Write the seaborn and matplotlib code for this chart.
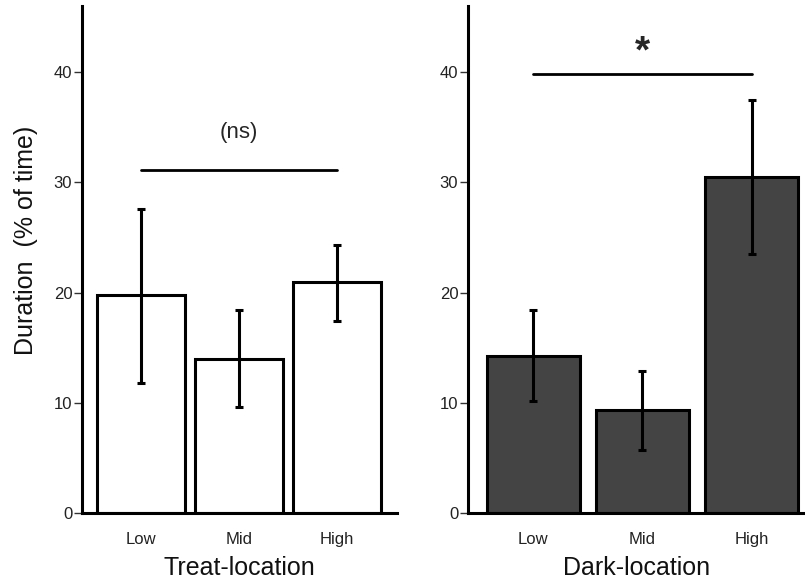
import matplotlib
matplotlib.use("Agg")
import matplotlib.pyplot as plt
import seaborn as sns
import numpy as np
import pandas as pd

categories = ["Low", "Mid", "High"]

treat_values = [19.8, 14.0, 21.0]
treat_err_low = [11.8, 9.6, 17.4]
treat_err_high = [27.6, 18.4, 24.3]

dark_values = [14.2, 9.3, 30.5]
dark_err_low = [10.2, 5.7, 23.5]
dark_err_high = [18.4, 12.9, 37.5]

yticks = [0, 10, 20, 30, 40]
treat_label = "Treat-location"
dark_label = "Dark-location"
ylabel = "Duration  (% of time)"
treat_sig = "(ns)"
dark_sig = "*"
treat_sig_y = 31.15
dark_sig_y = 39.8

sns.set_theme(style="white")
plt.rcParams["font.family"] = ["Liberation Sans", "DejaVu Sans"]

fig = plt.figure(figsize=(8.05, 5.79), dpi=100)
y0 = 1 - 513 / 579
h = (513 - 6) / 579
ax1 = fig.add_axes([82 / 805, y0, (397 - 82) / 805, h])
ax2 = fig.add_axes([468 / 805, y0, (805 - 468) / 805, h])

def panel(ax, values, lo, hi, color, width, xlabel, sig, sig_y, sig_size,
          sig_off, sig_va, sig_weight, xlim_right):
    df = pd.DataFrame({"cat": categories, "val": values})
    sns.barplot(data=df, x="cat", y="val", order=categories, color=color,
                edgecolor="black", linewidth=2.2, width=width, errorbar=None,
                saturation=1, ax=ax)
    x = np.arange(len(categories))
    v = np.array(values)
    yerr = np.vstack([v - np.array(lo), np.array(hi) - v])
    ax.errorbar(x, v, yerr=yerr, fmt="none", ecolor="black", elinewidth=2.2,
                capsize=3, capthick=2.2)
    ax.plot([0, 2], [sig_y, sig_y], color="black", lw=2)
    ax.text(1, sig_y + sig_off, sig, ha="center", va=sig_va,
            fontsize=sig_size, fontweight=sig_weight)
    ax.set_ylim(0, 46)
    ax.set_xlim(-0.6, xlim_right)
    ax.set_yticks(yticks)
    ax.set_yticklabels([str(t) for t in yticks], fontsize=12, color="#222222")
    ax.set_xticks(x)
    ax.set_xticklabels(categories, fontsize=12, color="#222222")
    ax.tick_params(axis="y", left=True, length=6, width=1, color="#333333", pad=1)
    ax.tick_params(axis="x", bottom=False, pad=8)
    ax.set_xlabel(xlabel, fontsize=18, labelpad=6, color="#111111")
    ax.set_ylabel("")
    for s in ["top", "right"]:
        ax.spines[s].set_visible(False)
    for s in ["left", "bottom"]:
        ax.spines[s].set_color("black")
        ax.spines[s].set_linewidth(2.2)

panel(ax1, treat_values, treat_err_low, treat_err_high, "white", 0.9,
      treat_label, treat_sig, treat_sig_y, 16, 2.4, "bottom", "normal", 2.612)
panel(ax2, dark_values, dark_err_low, dark_err_high, "#444444", 0.845,
      dark_label, dark_sig, dark_sig_y, 28, 2.0, "center", "bold", 2.49)

fig.text(26 / 805, 1 - 240 / 579, ylabel, rotation=90, ha="center",
         va="center", fontsize=18, color="#111111")

fig.savefig("out.png", dpi=100)
